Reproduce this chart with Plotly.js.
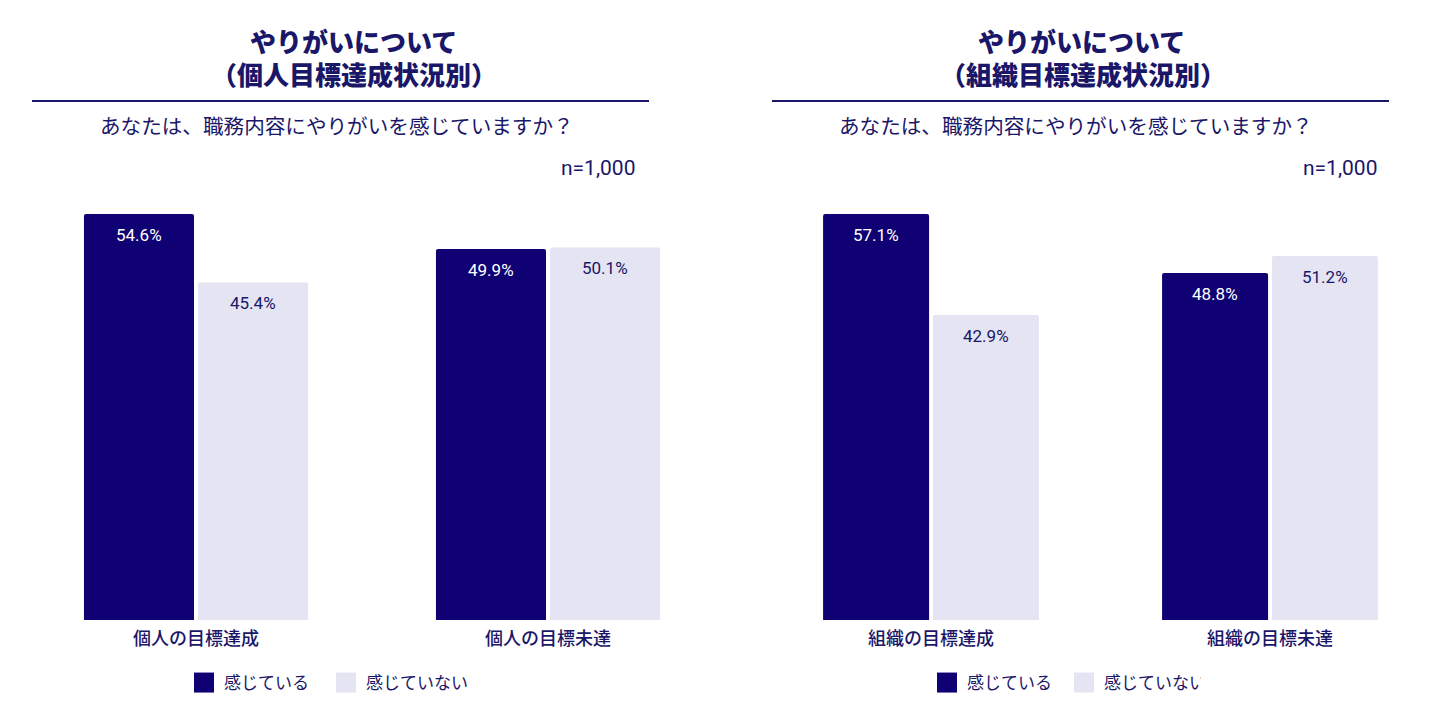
<!DOCTYPE html>
<html>
<head>
<meta charset="utf-8">
<script src="https://cdn.plot.ly/plotly-3.0.1.min.js"></script>
<style>
html,body{margin:0;padding:0;background:#fff;}
#chart{width:1434px;height:720px;}
</style>
</head>
<body>
<div id="chart"></div>
<script>
// ---- data ----
const categoriesLeft = ['個人の目標達成', '個人の目標未達'];
const categoriesRight = ['組織の目標達成', '組織の目標未達'];
const seriesNames = ['感じている', '感じていない'];
const leftFeel = [54.6, 49.9];
const leftNotFeel = [45.4, 50.1];
const rightFeel = [57.1, 48.8];
const rightNotFeel = [42.9, 51.2];
const titleLine1 = 'やりがいについて';
const titleLeft2 = '（個人目標達成状況別）';
const titleRight2 = '（組織目標達成状況別）';
const question = 'あなたは、職務内容にやりがいを感じていますか？';
const sampleText = 'n=1,000';

// ---- style ----
const W = 1434, H = 720;
const DARK = '#0f0073';
const LIGHT = '#e5e4f2';
const NAVY = '#1a1668';
const FONT = 'Roboto, "Noto Sans CJK JP", sans-serif';
const px = x => x / W;
const py = y => 1 - y / H;

function barTrace(x, y, name, color, xa, ya, legend) {
  return {
    type: 'bar', x: x, y: y, name: name, xaxis: xa, yaxis: ya, legend: legend,
    marker: {color: color, line: {width: 0}},
    hoverinfo: 'skip'
  };
}

const data = [
  barTrace(categoriesLeft, leftFeel, seriesNames[0], DARK, 'x', 'y', 'legend'),
  barTrace(categoriesLeft, leftNotFeel, seriesNames[1], LIGHT, 'x', 'y', 'legend'),
  barTrace(categoriesRight, rightFeel, seriesNames[0], DARK, 'x2', 'y2', 'legend2'),
  barTrace(categoriesRight, rightNotFeel, seriesNames[1], LIGHT, 'x2', 'y2', 'legend2')
];

// value labels near the top of each bar
const annotations = [];
function addLabels(cats, vals, xa, ya, shift, color) {
  cats.forEach((c, i) => {
    annotations.push({
      xref: xa, yref: ya, x: c, y: vals[i], xshift: shift, yshift: -9,
      yanchor: 'top', xanchor: 'center', showarrow: false,
      text: vals[i].toFixed(1) + '%',
      font: {family: FONT, size: 17, color: color}
    });
  });
}
addLabels(categoriesLeft, leftFeel, 'x', 'y', -57, '#ffffff');
addLabels(categoriesLeft, leftNotFeel, 'x', 'y', 57, NAVY);
addLabels(categoriesRight, rightFeel, 'x2', 'y2', -55, '#ffffff');
addLabels(categoriesRight, rightNotFeel, 'x2', 'y2', 55, NAVY);

function textAnn(text, x, y, size, weight, anchor) {
  annotations.push({
    xref: 'paper', yref: 'paper', x: px(x), y: py(y), xanchor: anchor || 'center', yanchor: 'middle',
    showarrow: false, text: text,
    font: {family: FONT, size: size, color: NAVY, weight: weight || 400}
  });
}
textAnn(titleLine1, 353, 43, 26, 800);
textAnn(titleLeft2, 354, 76, 26, 800);
textAnn(titleLine1, 1081, 43, 26, 800);
textAnn(titleRight2, 1083, 76, 26, 800);
textAnn(question, 337, 127, 20.6, 400);
textAnn(question, 1076, 127, 20.6, 400);
textAnn(sampleText, 637, 168, 21, 400, 'right');
textAnn(sampleText, 1379, 168, 21, 400, 'right');

const shapes = [
  {type: 'line', xref: 'paper', yref: 'paper', x0: px(32), x1: px(649), y0: py(101), y1: py(101), line: {color: NAVY, width: 2}},
  {type: 'line', xref: 'paper', yref: 'paper', x0: px(772), x1: px(1389), y0: py(101), y1: py(101), line: {color: NAVY, width: 2}}
];

const yDom = [py(620), py(214)];
function xAxis(domain, range, anchor) {
  return {
    domain: domain, range: range, type: 'category', anchor: anchor,
    showgrid: false, zeroline: false, showline: false, ticks: '', fixedrange: true,
    tickfont: {family: FONT, size: 18, color: NAVY, weight: 500},
    ticklabelstandoff: 6
  };
}
function yAxis(domain, max, anchor) {
  return {
    domain: domain, range: [0, max], anchor: anchor,
    visible: false, showgrid: false, zeroline: false, fixedrange: true
  };
}
function legendCfg(cx, ew) {
  return {
    orientation: 'h', x: px(cx), xanchor: 'center', y: py(683), yanchor: 'middle',
    font: {family: FONT, size: 17, color: NAVY}, itemwidth: 30, traceorder: 'normal',
    entrywidth: ew, entrywidthmode: 'pixels'
  };
}

const layout = {
  width: W, height: H,
  margin: {l: 0, r: 0, t: 0, b: 0},
  paper_bgcolor: '#ffffff', plot_bgcolor: 'rgba(0,0,0,0)',
  barmode: 'group', bargap: 0.352, bargroupgap: 0.035, barcornerradius: 2,
  font: {family: FONT, color: NAVY},
  xaxis: xAxis([px(30), px(690)], [-0.4716, 1.4034], 'y'),
  yaxis: yAxis(yDom, Math.max(...leftFeel, ...leftNotFeel), 'x'),
  xaxis2: xAxis([px(740), px(1420)], [-0.5634, 1.4425], 'y2'),
  yaxis2: yAxis(yDom, Math.max(...rightFeel, ...rightNotFeel), 'x2'),
  legend: legendCfg(326, 97),
  legend2: legendCfg(1064, 92),
  annotations: annotations,
  shapes: shapes
};

Plotly.newPlot('chart', data, layout, {staticPlot: true, displayModeBar: false}).then(gd => {
  // enlarge legend swatches to 20x20 squares
  gd.querySelectorAll('.legendpoints path').forEach(p => {
    p.setAttribute('d', 'M10,10H-10V-10H10Z');
  });
});
</script>
</body>
</html>
